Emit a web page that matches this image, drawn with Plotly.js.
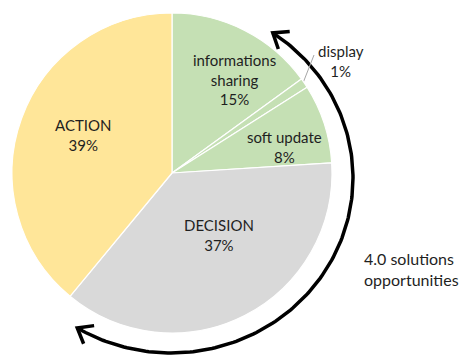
<!DOCTYPE html>
<html>
<head>
<meta charset="utf-8">
<script src="https://cdn.plot.ly/plotly-3.0.1.min.js"></script>
<style>
  html, body { margin: 0; padding: 0; background: #fff; }
  #chart { width: 468px; height: 356px; }
</style>
</head>
<body>
<div id="chart"></div>
<script>
// Slices, clockwise from 12 o'clock
const labels = ["informations<br>sharing", "display", "soft update", "DECISION", "ACTION"];
const values = [15, 1, 8, 37, 39];
const colors = ["#C5E0B4", "#C5E0B4", "#C5E0B4", "#D9D9D9", "#FFE699"];
const arrowText = "4.0 solutions<br>opportunities";

const W = 468, H = 356;

// Pie centre and radius, in pixels
const pieCx = 172, pieCy = 173, pieR = 160;

// Where each slice label sits (pixels)
const labelPos = [[234, 79], [341, 61], [284, 147], [219, 235], [83, 135]];

// Curved double arrow around the right side (slightly elliptical)
const arc = { cx: 171, cy: 178, rx: 182, ry: 175, from: 34, to: 211, head: 17, spread: 38 };

const textColor = "#1f1f1f";
const fontFamily = "Lato, 'Open Sans', sans-serif";

// point on the arc, angle in degrees clockwise from 12 o'clock
function arcPoint(deg) {
  const t = deg * Math.PI / 180;
  return [arc.cx + arc.rx * Math.sin(t), arc.cy - arc.ry * Math.cos(t)];
}

// unit tangent along increasing angle
function tangent(deg) {
  const t = deg * Math.PI / 180;
  const dx = arc.rx * Math.cos(t), dy = arc.ry * Math.sin(t);
  const n = Math.hypot(dx, dy);
  return [dx / n, dy / n];
}

// chevron wings for a tip pointing along direction (dx, dy)
function chevron(tip, dx, dy) {
  const pts = [];
  [-1, 1].forEach((s) => {
    const a = s * arc.spread * Math.PI / 180;
    const bx = -dx * Math.cos(a) + dy * Math.sin(a);
    const by = -dx * Math.sin(a) - dy * Math.cos(a);
    pts.push([tip[0] + arc.head * bx, tip[1] + arc.head * by]);
  });
  return pts;
}

let arcX = [], arcY = [];
for (let d = arc.from; d <= arc.to; d += 1) {
  const p = arcPoint(d);
  arcX.push(p[0]);
  arcY.push(p[1]);
}
arcX.push(null);
arcY.push(null);

// head at the top end points counter-clockwise
const tip1 = arcPoint(arc.from);
const d1 = tangent(arc.from);
const w1 = chevron(tip1, -d1[0], -d1[1]);
arcX.push(w1[0][0], tip1[0], w1[1][0], null);
arcY.push(w1[0][1], tip1[1], w1[1][1], null);

// head at the bottom end points clockwise
const tip2 = arcPoint(arc.to);
const d2 = tangent(arc.to);
const w2 = chevron(tip2, d2[0], d2[1]);
arcX.push(w2[0][0], tip2[0], w2[1][0]);
arcY.push(w2[0][1], tip2[1], w2[1][1]);

const pieTrace = {
  type: "pie",
  labels: labels,
  values: values,
  sort: false,
  direction: "clockwise",
  rotation: 0,
  marker: { colors: colors, line: { color: "#ffffff", width: 1.2 } },
  textinfo: "none",
  hoverinfo: "none",
  showlegend: false,
  domain: {
    x: [(pieCx - pieR) / W, (pieCx + pieR) / W],
    y: [(H - pieCy - pieR) / H, (H - pieCy + pieR) / H],
  },
};

const arrowTrace = {
  type: "scatter",
  mode: "lines",
  x: arcX,
  y: arcY,
  line: { color: "#000000", width: 3.5 },
  hoverinfo: "skip",
  showlegend: false,
};

// thin leader line for the tiny "display" slice
const leaderTrace = {
  type: "scatter",
  mode: "lines",
  x: [303, 314],
  y: [83, 55],
  line: { color: "#A6A6A6", width: 1 },
  hoverinfo: "skip",
  showlegend: false,
};

const total = values.reduce((a, b) => a + b, 0);
const annotations = labels.map((lab, i) => ({
  xref: "x",
  yref: "y",
  x: labelPos[i][0],
  y: labelPos[i][1],
  text: lab + "<br>" + Math.round((values[i] / total) * 100) + "%",
  showarrow: false,
  font: { family: fontFamily, size: 15, color: textColor },
  align: "center",
  xanchor: "center",
  yanchor: "middle",
}));

annotations.push({
  xref: "x",
  yref: "y",
  x: 362,
  y: 269,
  text: arrowText,
  showarrow: false,
  font: { family: fontFamily, size: 16, color: textColor },
  align: "left",
  xanchor: "left",
  yanchor: "middle",
});

const layout = {
  width: W,
  height: H,
  margin: { l: 0, r: 0, t: 0, b: 0 },
  paper_bgcolor: "#ffffff",
  plot_bgcolor: "rgba(0,0,0,0)",
  xaxis: { range: [0, W], visible: false, fixedrange: true },
  yaxis: { range: [H, 0], visible: false, fixedrange: true },
  annotations: annotations,
  showlegend: false,
};

Plotly.newPlot("chart", [pieTrace, arrowTrace, leaderTrace], layout, { displayModeBar: false, staticPlot: true });
</script>
</body>
</html>
